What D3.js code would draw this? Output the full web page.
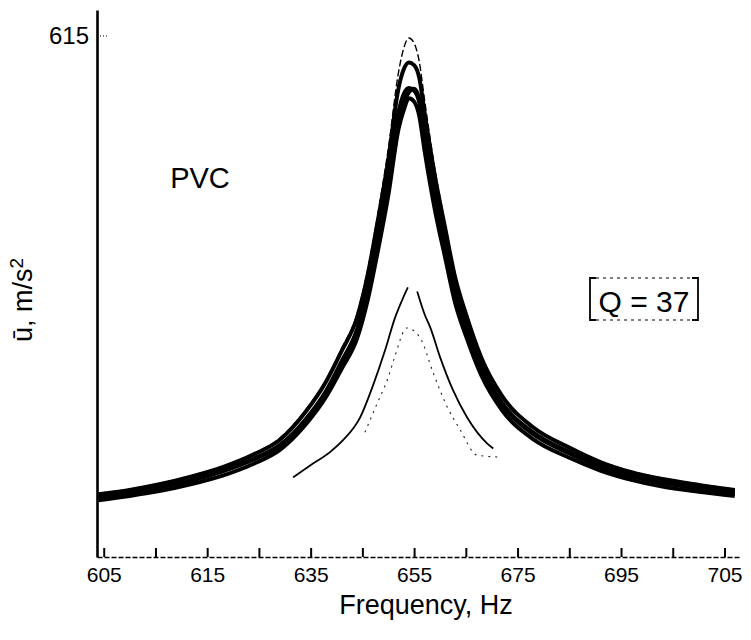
<!DOCTYPE html>
<html>
<head>
<meta charset="utf-8">
<script src="https://cdn.jsdelivr.net/npm/d3@7"></script>
<style>
  body { margin: 0; background: #fff; }
  text { font-family: "Liberation Sans", Arial, sans-serif; fill: #000; }
</style>
</head>
<body>
<div id="chart"></div>
<script>
// ---------------------------//
//       DATA                 //
// ---------------------------//

// frequency grid (Hz) shared by the main bundle of curves
var freq = [594, 600, 606, 612, 618, 624, 629, 634, 638, 641, 644, 646, 648, 650, 652, 653, 654, 655, 656, 657, 659, 661, 663, 665, 668, 672, 678, 685, 691, 697, 703, 710, 717];

// main bundle, acceleration amplitude (m/s2)
var run1 = [75, 80, 87, 96, 107, 122, 140, 173, 209, 246, 287, 338, 405, 481, 572, 600, 612, 606, 584, 540, 458, 392, 331, 289, 236, 191, 154, 130, 113, 101, 93, 86, 80];
var run2 = [74, 79, 86, 95, 106, 121, 138, 171, 207, 243, 283, 332, 397, 468, 553, 575, 583, 580, 565, 525, 450, 388, 328, 287, 235, 190, 153, 129, 112, 100, 92, 85, 79];
var run3 = [70, 75, 82, 90, 101, 115, 131, 162, 196, 231, 269, 315, 377, 444, 525, 546, 553, 550, 536, 498, 427, 368, 311, 272, 223, 180, 145, 122, 106, 95, 87, 81, 75];
var run4 = [71, 76, 83, 91, 102, 116, 132, 160, 193, 228, 265, 309, 368, 432, 510, 536, 548, 552, 540, 505, 435, 372, 316, 276, 226, 182, 147, 124, 108, 97, 89, 82, 77];
var run5 = [67, 72, 78, 86, 96, 110, 126, 156, 189, 222, 258, 302, 361, 426, 505, 527, 541, 537, 520, 480, 410, 353, 298, 261, 214, 173, 139, 117, 102, 91, 83, 77, 72];

// low thin curve (two branches, broken at the peak)
var lowLeftF = [631.6, 634.9, 638.8, 641.3, 644.6, 647.1, 649.4, 651.3, 652.9, 653.8];
var lowLeftV = [94, 108, 124, 138, 165, 203, 244, 282, 306, 318];
var lowRightF = [655.6, 657.1, 658.1, 660.0, 662.5, 665.2, 669.1, 670.3];
var lowRightV = [313, 285, 271, 236, 197, 165, 134, 128];

// faint dotted curve
var dotF = [645.5, 647.7, 650.0, 651.1, 653.6, 656.2, 658.7, 661.4, 663.9, 667.2, 671.1];
var dotV = [147, 179, 212, 233, 270, 258, 217, 177, 150, 120, 118];

// axis ticks
var xTicks = [595, 605, 615, 625, 635, 645, 655, 665, 675, 685, 695, 705, 715];
var xLabelTicks = [595, 615, 635, 655, 675, 695, 715];
var xLabels = ["605", "615", "635", "655", "675", "695", "705"];
var yTicks = [615];
var yLabels = ["615"];

// ---------------------------//
//       SVG + SCALES         //
// ---------------------------//

var width = 751, height = 640;

var svg = d3.select("#chart")
  .append("svg")
  .attr("width", width)
  .attr("height", height);

var x = d3.scaleLinear()
  .domain([593.7, 718])
  .range([97, 740]);

var y = d3.scaleLinear()
  .domain([0, 645])
  .range([557, 10]);

// ---------------------------//
//       AXES                 //
// ---------------------------//

// bottom axis, ticks pointing up into the plot
var xAxis = svg.append("g")
  .attr("transform", "translate(0," + y(0) + ")")
  .call(d3.axisBottom(x)
    .tickValues(xTicks)
    .tickSizeInner(-9)
    .tickSizeOuter(0)
    .tickPadding(10)
    .tickFormat(function(d) {
      var i = xLabelTicks.indexOf(d);
      return i < 0 ? "" : xLabels[i];
    }));
xAxis.select(".domain")
  .attr("stroke", "#000")
  .attr("stroke-width", 1.6)
  .attr("stroke-dasharray", "5,2");
xAxis.selectAll(".tick line")
  .attr("stroke", "#000")
  .attr("stroke-width", 2);
xAxis.selectAll(".tick text")
  .style("font-size", "21px")
  .attr("dy", "0.71em");

// left axis
var yAxis = svg.append("g")
  .attr("transform", "translate(" + x(593.7) + ",0)")
  .call(d3.axisLeft(y)
    .tickValues(yTicks)
    .tickSizeInner(-10)
    .tickSizeOuter(0)
    .tickPadding(8)
    .tickFormat(function(d, i) { return yLabels[i]; }));
yAxis.select(".domain")
  .attr("stroke", "#000")
  .attr("stroke-width", 2.6);
yAxis.selectAll(".tick line")
  .attr("stroke", "#000")
  .attr("stroke-width", 1)
  .attr("stroke-dasharray", "1,2");
yAxis.selectAll(".tick text")
  .style("font-size", "24px");

// axis titles
svg.append("text")
  .attr("x", 426)
  .attr("y", 614)
  .attr("text-anchor", "middle")
  .style("font-size", "27px")
  .text("Frequency, Hz");

var yTitle = svg.append("text")
  .attr("transform", "translate(32,300) rotate(-90)")
  .attr("text-anchor", "middle")
  .style("font-size", "27px");
yTitle.append("tspan").text("ū, m/s");
yTitle.append("tspan")
  .attr("dy", "-0.45em")
  .style("font-size", "19px")
  .text("2");

// ---------------------------//
//       CURVES               //
// ---------------------------//

var line = d3.line()
  .x(function(d) { return x(d[0]); })
  .y(function(d) { return y(d[1]); })
  .curve(d3.curveMonotoneX);

function pairs(fs, vs) {
  return fs.map(function(f, i) { return [f, vs[i]]; });
}

var runs = [
  {v: run2, w: 4, dash: null},
  {v: run3, w: 4, dash: null},
  {v: run4, w: 4, dash: null},
  {v: run5, w: 4, dash: null},
  {v: run1, w: 1.4, dash: "7,3"}
];

svg.append("g")
  .selectAll("path")
  .data(runs)
  .enter()
  .append("path")
    .attr("d", function(d) { return line(pairs(freq, d.v)); })
    .attr("fill", "none")
    .attr("stroke", "#000")
    .attr("stroke-width", function(d) { return d.w; })
    .attr("stroke-dasharray", function(d) { return d.dash; });

// low thin curve
svg.append("path")
  .attr("d", line(pairs(lowLeftF, lowLeftV)))
  .attr("fill", "none")
  .attr("stroke", "#000")
  .attr("stroke-width", 1.8);
svg.append("path")
  .attr("d", line(pairs(lowRightF, lowRightV)))
  .attr("fill", "none")
  .attr("stroke", "#000")
  .attr("stroke-width", 1.8);

// faint dotted curve
svg.append("path")
  .attr("d", line(pairs(dotF, dotV)))
  .attr("fill", "none")
  .attr("stroke", "#222")
  .attr("stroke-width", 1.1)
  .attr("stroke-dasharray", "2,5");

// ---------------------------//
//       ANNOTATIONS          //
// ---------------------------//

svg.append("text")
  .attr("x", 200)
  .attr("y", 188)
  .attr("text-anchor", "middle")
  .style("font-size", "29px")
  .text("PVC");

// [Q = 37] box: solid sides, dotted top and bottom
var box = svg.append("g");
box.append("path")
  .attr("d", "M596,278 H590 V320 H596 M692,278 H698 V320 H692")
  .attr("fill", "none")
  .attr("stroke", "#000")
  .attr("stroke-width", 1.8);
box.append("path")
  .attr("d", "M596,278 H692 M596,320 H692")
  .attr("fill", "none")
  .attr("stroke", "#000")
  .attr("stroke-width", 1)
  .attr("stroke-dasharray", "3,4");
box.append("text")
  .attr("x", 644)
  .attr("y", 312)
  .attr("text-anchor", "middle")
  .style("font-size", "30px")
  .text("Q = 37");
</script>
</body>
</html>
